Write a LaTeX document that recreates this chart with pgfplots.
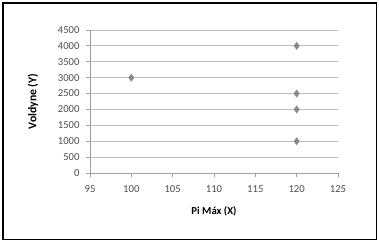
\documentclass[border=0pt]{standalone}
\usepackage{pgfplots}
\pgfplotsset{compat=1.18}
\usepackage{fontspec}
\setmainfont{Carlito}
\definecolor{axgray}{HTML}{A0A0A0}
\definecolor{gridgray}{HTML}{BEBEBE}
\definecolor{lblgray}{HTML}{505050}
\definecolor{mkgray}{HTML}{8A8A8A}
\begin{document}
\begin{tikzpicture}[x=1bp,y=1bp]
\path[use as bounding box] (0,0) rectangle (379,244);
\draw[line width=1.3bp, black, fill=white] (3,4.5) rectangle (376.5,241);
\begin{axis}[
  at={(90bp,71bp)}, anchor=south west,
  scale only axis, width=248bp, height=143bp,
  xmin=95, xmax=125, ymin=0, ymax=4500,
  xtick={95,100,...,125}, ytick={0,500,...,4500},
  axis x line*=bottom, axis y line*=left,
  axis line style={axgray, line width=0.8bp, -},
  ymajorgrids, grid style={gridgray, line width=0.8bp},
  tick style={axgray, line width=0.8bp},
  tick align=outside, major tick length=4bp,
  every tick label/.append style={font=\fontsize{10.7}{12}\selectfont, text=lblgray},
  /pgf/number format/assume math mode=true,
  /pgf/number format/1000 sep={},
  yticklabel style={xshift=-3bp},
  xticklabel style={yshift=-5bp},
  xlabel={\textbf{Pi Máx (X)}}, ylabel={\textbf{Voldyne (Y)}},
  xlabel style={font=\fontsize{10.7}{12}\selectfont, text=black, at={(axis description cs:0.5,-0.266)}, anchor=center},
  ylabel style={font=\fontsize{11.8}{13}\selectfont, text=black, at={(axis description cs:-0.23,0.5)}, anchor=center},
  clip=false,
]
\addplot[only marks, mark=diamond*, mark size=3.6bp, mkgray, mark options={fill=mkgray, draw=mkgray}]
  coordinates {(100,3000) (120,4000) (120,2500) (120,2000) (120,1000)};
\end{axis}
\end{tikzpicture}
\end{document}
